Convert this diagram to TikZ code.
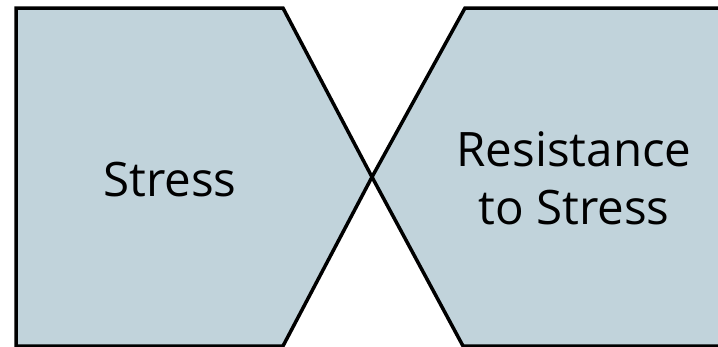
\documentclass[tikz,border=0pt]{standalone}
\usepackage{fontspec}
\setmainfont{Open Sans}
\definecolor{panelfill}{RGB}{193,211,219}
\begin{document}
\begin{tikzpicture}[x=1pt,y=-1pt,
  panel/.style={fill=panelfill,draw=black,line width=3.5pt,line join=miter},
  label/.style={font=\fontsize{47.5}{58}\selectfont,align=center,text=black,inner sep=0pt}]
\useasboundingbox (0,0) rectangle (718,346);
\begin{scope}
\clip (0,0) rectangle (718,346);
% left panel
\draw[panel] (16,8) -- (283,8) -- (372,177) -- (283,346) -- (16,346) -- cycle;
% right panel
\draw[panel] (465,8) -- (740,8) -- (740,346) -- (463,346) -- (372,177) -- cycle;
\end{scope}
% labels, placed by the baseline of their last line
\node[label,anchor=base] (stress) at (170,196) {Stress};
\node[label,anchor=base] (resist) at (574,224) {Resistance\\to Stress};
\end{tikzpicture}
\end{document}
